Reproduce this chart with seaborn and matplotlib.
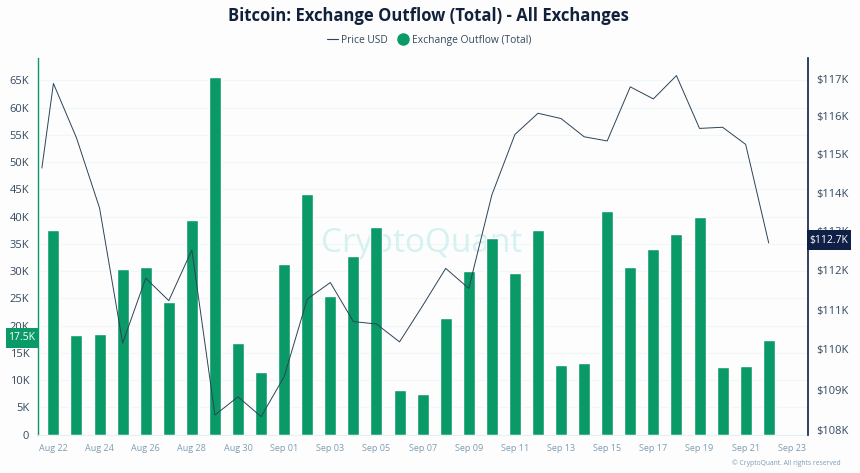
import matplotlib
matplotlib.use("Agg")
import matplotlib.pyplot as plt
from matplotlib.lines import Line2D
from matplotlib.patches import Rectangle
import numpy as np
import pandas as pd
import seaborn as sns

outflow = [37500, 18300, 18500, 30300, 30800, 24400, 39300, 65600, 16800, 11400, 31300,
           44200, 25500, 32800, 38100, 8100, 7500, 21400, 30000, 36000, 29700, 37500,
           12700, 13100, 41000, 30800, 34000, 36900, 40000, 12400, 12500, 17300]
price_start = 114640
price = [116870, 115430, 113600, 110160, 111800, 111230, 112520, 108370, 108820, 108330,
         109320, 111270, 111690, 110700, 110640, 110190, 111100, 112050, 111540, 113940,
         115520, 116080, 115940, 115460, 115350, 116780, 116460, 117080, 115680, 115710,
         115260, 112700]
left_ticks = [0, 5000, 10000, 15000, 20000, 25000, 30000, 35000, 40000, 45000, 50000,
              55000, 60000, 65000]
left_labels = ["0", "5K", "10K", "15K", "20K", "25K", "30K", "35K", "40K", "45K", "50K",
               "55K", "60K", "65K"]
right_ticks = [108000, 109000, 110000, 111000, 112000, 113000, 114000, 115000, 116000, 117000]
right_labels = ["$108K", "$109K", "$110K", "$111K", "$112K", "$113K", "$114K", "$115K",
                "$116K", "$117K"]

GREEN = "#0a9a68"
NAVY = "#0f1f45"
BG = "#fdfdfd"

sns.set_theme(style="white")
plt.rcParams["font.family"] = ["Open Sans", "DejaVu Sans"]

dates = pd.date_range("2025-08-22", "2025-09-22")
days = np.arange(len(dates))
df = pd.DataFrame({"day": days, "outflow": outflow})
price_days = np.concatenate([[-0.5], days])
price_values = [price_start] + price

fig = plt.figure(figsize=(8.6, 4.73), dpi=100, facecolor=BG)
ax = fig.add_axes([37.5 / 860, 1 - 434.5 / 473, 770 / 860, 376.5 / 473], facecolor=BG)

sns.barplot(data=df, x="day", y="outflow", native_scale=True, color=GREEN, saturation=1,
            width=0.52, ax=ax)
ax.set_xlim(-0.69, 32.68)
ax.set_ylim(0, 69130)
ax.set_yticks(left_ticks)
ax.set_yticklabels(left_labels)
ax.set_xticks(np.arange(0, 33, 2))
tick_dates = pd.date_range("2025-08-22", periods=17, freq="2D")
ax.set_xticklabels([d.strftime("%b %d") for d in tick_dates])
ax.set_xlabel("")
ax.set_ylabel("")
ax.tick_params(axis="y", length=0, pad=6, labelsize=8, labelcolor="#34495e")
ax.tick_params(axis="x", length=0, pad=7, labelsize=6.5, labelcolor="#7d9cb3")
ax.grid(axis="y", color="#eef8f8", lw=0.8)
ax.set_axisbelow(True)
for side in ["top", "right"]:
    ax.spines[side].set_visible(False)
ax.spines["left"].set_color(GREEN)
ax.spines["left"].set_linewidth(1)
ax.spines["bottom"].set_color("#e3f1f1")
ax.spines["bottom"].set_linewidth(0.8)
# watermark sits under the bars
ax.text(422 / 860, 1 - 243 / 473, "CryptoQuant", transform=fig.transFigure, ha="center",
        va="center", fontsize=24, color="#d5f1f1", zorder=0.8)

ax2 = ax.twinx()
sns.lineplot(x=price_days, y=price_values, color="#2d4358", lw=0.7, ax=ax2, errorbar=None,
             estimator=None)
ax2.set_yscale("log")
ax2.set_ylim(107890, 117550)
ax2.set_yticks(right_ticks)
ax2.set_yticklabels(right_labels)
ax2.minorticks_off()
ax2.set_xlim(-0.69, 32.68)
ax2.set_ylabel("")
ax2.tick_params(axis="y", length=0, pad=6, labelsize=8, labelcolor="#34495e")
for side in ["top", "left", "bottom"]:
    ax2.spines[side].set_visible(False)
ax2.spines["right"].set_color(NAVY)
ax2.spines["right"].set_linewidth(1.2)

# title, legend and the small tags are placed in figure pixels
fig.text(428.5 / 860, 1 - 16 / 473, "Bitcoin: Exchange Outflow (Total) - All Exchanges",
         ha="center", va="center", fontsize=12, fontweight="bold", color="#12213b")
handles = [
    Line2D([], [], color="#2d4358", lw=0.8, label="Price USD"),
    Line2D([], [], color=GREEN, marker="o", ls="", ms=8, label="Exchange Outflow (Total)"),
]
fig.legend(handles=handles, loc="center", bbox_to_anchor=(429 / 860, 1 - 40.5 / 473), ncol=2,
           frameon=False, fontsize=7.4, labelcolor="#34495e", handlelength=1.1,
           handletextpad=0.3, columnspacing=0.9)


def tag(x0, y0, x1, y1, color, label):
    fig.add_artist(Rectangle((x0 / 860, 1 - y1 / 473), (x1 - x0) / 860, (y1 - y0) / 473,
                             transform=fig.transFigure, fc=color, ec="none", zorder=6))
    fig.text((x0 + x1) / 2 / 860, 1 - (y0 + y1) / 2 / 473, label, ha="center", va="center",
             fontsize=7.5, color="white", zorder=7)


tag(6, 327.5, 38, 348, GREEN, "17.5K")
tag(807, 230.5, 851, 250, NAVY, "$112.7K")
fig.text(841 / 860, 1 - 463.5 / 473, "© CryptoQuant. All rights reserved", ha="right", va="center",
         fontsize=4.9, color="#7d9cb3")

fig.savefig("out.png", dpi=100, facecolor=BG)
